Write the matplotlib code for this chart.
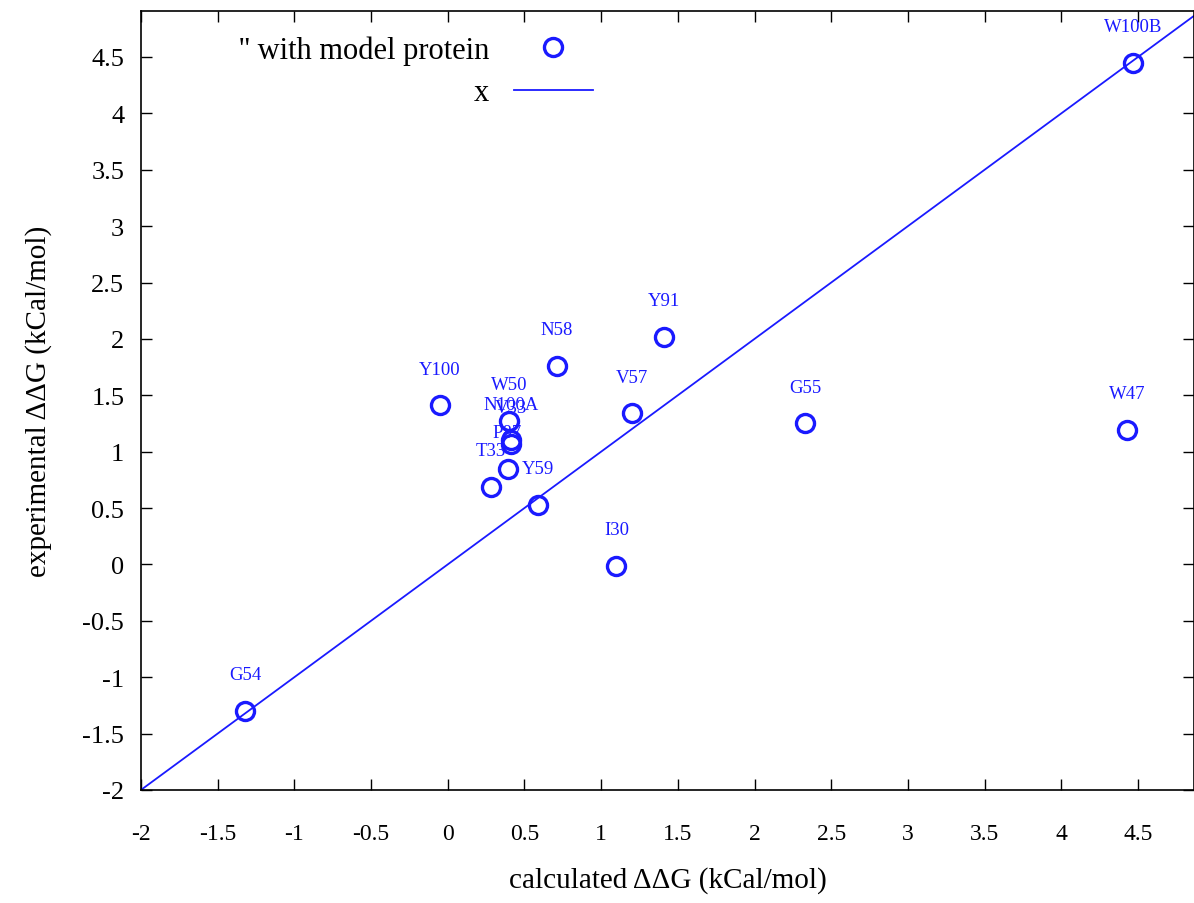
import matplotlib
matplotlib.use("Agg")
import matplotlib.pyplot as plt
import numpy as np

plt.rcParams['font.family'] = ['Liberation Serif', 'DejaVu Serif']

# calculated vs experimental ddG
names = ["W100B", "W47", "G55", "Y91", "N58", "V57", "Y100", "W50", "N100A",
         "V33", "P87", "T33", "Y59", "I30", "G54"]
calc = [4.47, 4.43, 2.33, 1.41, 0.71, 1.20, -0.05, 0.40, 0.41,
        0.41, 0.39, 0.28, 0.59, 1.10, -1.32]
expt = [4.45, 1.19, 1.25, 2.02, 1.76, 1.34, 1.41, 1.27, 1.10,
        1.07, 0.85, 0.69, 0.53, -0.01, -1.30]

blue = "#1a1aff"

fig = plt.figure(figsize=(11.94, 9.04), dpi=100)
ax = fig.add_axes([0.118, 0.125, 0.882, 0.862])

ax.plot(calc, expt, linestyle="none", marker="o", markersize=13,
        markerfacecolor="none", markeredgecolor=blue, markeredgewidth=2.4,
        label="'' with model protein")
xx = np.array([-2, 5])
ax.plot(xx, xx, color=blue, linewidth=1.3, label="x")

for n, a, b in zip(names, calc, expt):
    ax.annotate(n, (a, b), xytext=(0, 20), textcoords="offset points",
                ha="center", va="bottom", color=blue, fontsize=13.5)

ax.set_xlim(-2, 4.865)
ax.set_ylim(-2, 4.91)
ticks = np.arange(-2, 5, 0.5)
ax.set_xticks(ticks)
ax.set_yticks(ticks)
ax.set_xticklabels(["%g" % t for t in ticks])
ax.set_yticklabels(["%g" % t for t in ticks])
ax.tick_params(direction="in", length=8, width=1, top=True, right=True)
ax.tick_params(axis="x", labelsize=17, pad=24)
ax.tick_params(axis="y", labelsize=19, pad=12)
for s in ax.spines.values():
    s.set_linewidth(1.2)

ax.set_xlabel("calculated ΔΔG (kCal/mol)", fontsize=21, labelpad=16)
ax.set_ylabel("experimental ΔΔG (kCal/mol)", fontsize=21, labelpad=22)

ax.legend(loc="upper left", bbox_to_anchor=(0.064, 1.008), frameon=False,
          markerfirst=False, fontsize=22, handlelength=2.6,
          labelspacing=0.45, borderaxespad=0.6)

fig.savefig("out.png", dpi=100)
